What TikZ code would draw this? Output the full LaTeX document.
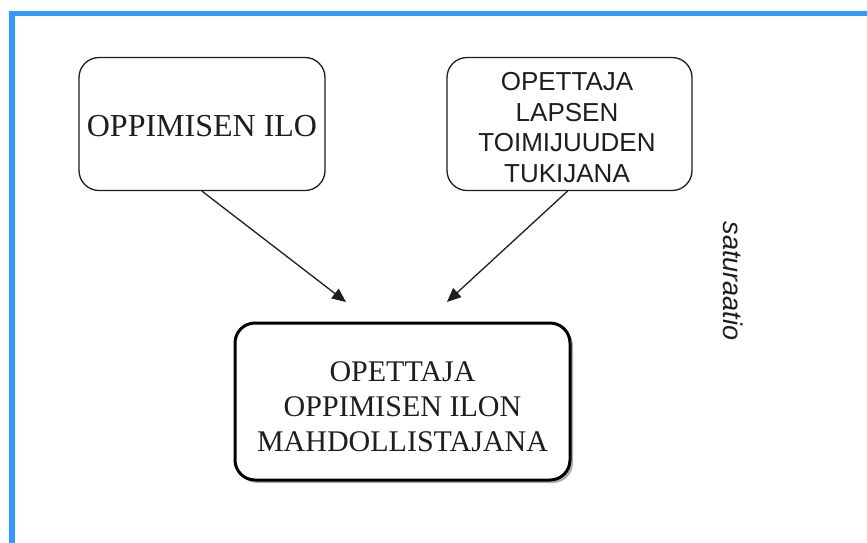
\documentclass[tikz,border=0pt]{standalone}
\usepackage{fontspec}
\setmainfont{Liberation Serif}
\newfontfamily\arialfont{Liberation Sans}
\usetikzlibrary{arrows.meta,shadows}
\definecolor{frameblue}{RGB}{51,153,255}
\definecolor{ink}{RGB}{30,30,30}
\tikzset{
  softbox/.style={draw=ink, line width=1.3pt, rounded corners=20pt, fill=white},
  mainbox/.style={draw=black, line width=3pt, rounded corners=20pt, fill=white,
    drop shadow={shadow xshift=3pt, shadow yshift=-3pt, fill=black!45, opacity=0.7}},
  boxtext/.style={text=ink, align=center, inner sep=0pt},
  link/.style={draw=ink, line width=1.3pt, -{Triangle[length=14pt,width=12pt]}}
}
\begin{document}
\begin{tikzpicture}[x=1pt,y=-1pt]
\useasboundingbox (0,0) rectangle (867,542);
\fill[white] (0,0) rectangle (867,542);
% blue frame
\draw[frameblue, line width=5.5pt] (12,545) -- (12,13.5) -- (870,13.5);
% boxes
\node[softbox, minimum width=246pt, minimum height=133pt] (ilo) at (202,124) {};
\node[boxtext, font=\fontsize{32}{35}\selectfont] (ilotext) at (202,126) {OPPIMISEN ILO};
\node[softbox, minimum width=245pt, minimum height=133pt] (tuki) at (569.5,124) {};
\node[boxtext, font=\arialfont\fontsize{26}{30.5}\selectfont] (tukitext) at (567,127.5)
  {OPETTAJA\\LAPSEN\\TOIMIJUUDEN\\TUKIJANA};
\node[mainbox, minimum width=335pt, minimum height=157pt] (main) at (402.5,401.5) {};
\node[boxtext, font=\fontsize{30}{35}\selectfont] (maintext) at (402.5,407)
  {OPETTAJA\\OPPIMISEN ILON\\MAHDOLLISTAJANA};
% arrows
\coordinate (tipa) at (346,302);
\coordinate (tipb) at (447,302);
\draw[link] (ilo.south) -- (tipa);
\draw[link] ([xshift=-2pt]tuki.south) -- (tipb);
% side label
\node[text=ink, font=\arialfont\itshape\fontsize{27}{30}\selectfont, rotate=-90] (sat) at (733,281) {saturaatio};
\end{tikzpicture}
\end{document}
